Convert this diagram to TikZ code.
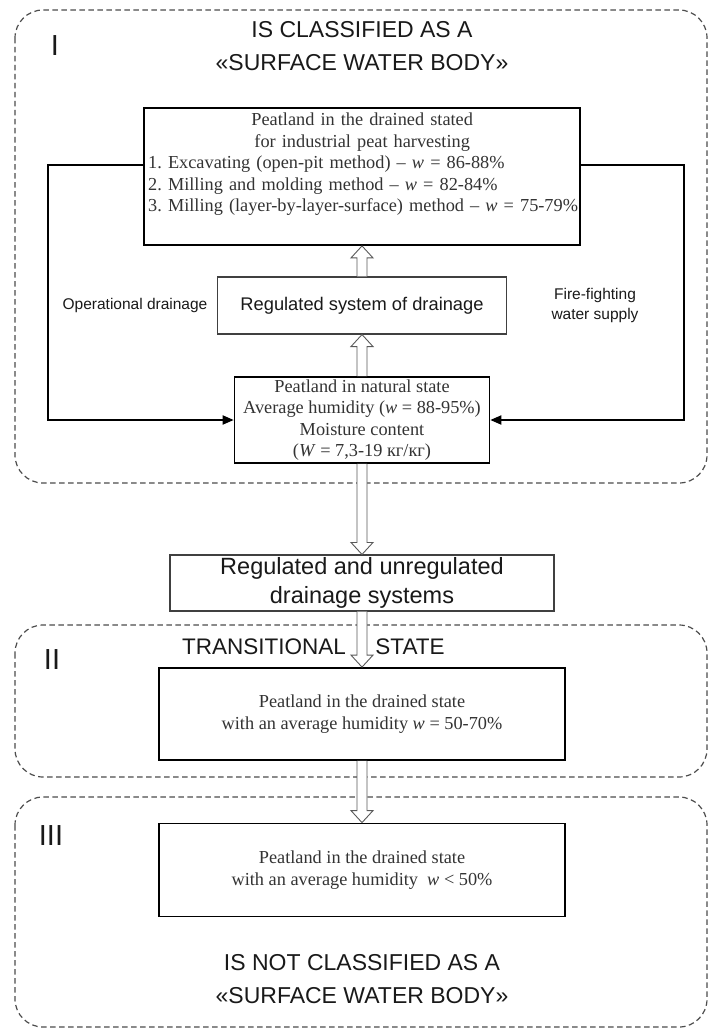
\documentclass[tikz,border=0pt]{standalone}
\usepackage{fontspec}
\setmainfont{Liberation Serif}
\setsansfont{Liberation Sans}
\usetikzlibrary{arrows.meta,calc}
\frenchspacing
\newcommand{\srf}{\fontsize{18.3}{21.5}\selectfont}
\newcommand{\hollowarrow}[2]{%
  \draw[hollow] let \p1=(#1), \p2=(#2), \n1={sign(\y2-\y1)} in
    ({\x1-5pt},{\y1}) -- ({\x1-5pt},{\y2-\n1*12pt}) -- ({\x1-11pt},{\y2-\n1*12pt})
    -- ({\x1},{\y2}) -- ({\x1+11pt},{\y2-\n1*12pt}) -- ({\x1+5pt},{\y2-\n1*12pt})
    -- ({\x1+5pt},{\y1});
}
\begin{document}
\begin{tikzpicture}[x=1pt,y=-1pt,
  region/.style={draw=black!70, line width=1.2pt, dash pattern=on 5.5pt off 3.5pt, rounded corners=28pt},
  thickbox/.style={draw=black, line width=1.8pt, fill=white, inner sep=0pt, align=center, text=black!80},
  thinbox/.style={draw=black!75, line width=1.1pt, fill=white, inner sep=0pt, align=center, text=black!90},
  seriftext/.style={font=\srf, text=black!80},
  titletext/.style={font=\sffamily\fontsize{23}{33}\selectfont, align=center, text=black!90},
  numeral/.style={font=\sffamily\fontsize{29}{30}\selectfont, text=black!90},
  sidetext/.style={font=\sffamily\fontsize{15.5}{20}\selectfont, align=center, text=black!90},
  hollow/.style={draw=black!65, line width=0.9pt, fill=white, line join=miter},
  side/.style={draw=black, line width=1.8pt, -{Triangle[length=11pt,width=9pt]}}
]
\useasboundingbox (0,0) rectangle (711,1030);

% regions
\draw[region] (15,10) rectangle (707,483);
\draw[region] (15,625) rectangle (707,777);
\draw[region] (15,797) rectangle (707,1027);

\node[titletext] (title1) at (362,46) {IS CLASSIFIED AS A\\«SURFACE WATER BODY»};
\node[numeral] (numI) at (55,46) {I};
\node[numeral] (numII) at (52,660) {II};
\node[numeral] (numIII) at (51,836) {III};

% top box
\node[thickbox, minimum width=436pt, minimum height=137pt] (harvest) at (362,176.5) {};
\node[seriftext, anchor=north west, align=left, inner sep=0pt, text width=440pt] (harvesttxt) at (148,113)
  {\makebox[428pt]{Peatland in the drained stated}\\
   \makebox[428pt]{for industrial peat harvesting}\\
   1. Excavating (open-pit method) -- \textit{w} = 86-88\%\\
   2. Milling and molding method -- \textit{w} = 82-84\%\\
   3. Milling (layer-by-layer-surface) method -- \textit{w} = 75-79\%};

\node[thinbox, minimum width=289pt, minimum height=57pt, font=\sffamily\fontsize{18.3}{22}\selectfont] (regbox) at (362,305.5) {Regulated system of drainage};
\node[sidetext] (opdrain) at (135,305) {Operational drainage};
\node[sidetext] (fire) at (595,305) {Fire-fighting\\water supply};

\node[thickbox, line width=1.6pt, minimum width=255pt, minimum height=86pt, font=\srf] (natbox) at (362,420)
  {Peatland in natural state\\Average humidity (\textit{w} = 88-95\%)\\Moisture content\\(\textit{W} = 7,3-19 кг/кг)};

\node[thinbox, minimum width=384pt, minimum height=56pt, font=\sffamily\fontsize{23.5}{29}\selectfont] (drainsys) at (362,583)
  {Regulated and unregulated\\drainage systems};

\node[titletext, font=\sffamily\fontsize{22.5}{29}\selectfont] (transA) at (264,647) {TRANSITIONAL};
\node[titletext, font=\sffamily\fontsize{22.5}{29}\selectfont] (transB) at (410,647) {STATE};

\node[thickbox, minimum width=406pt, minimum height=92pt, font=\srf] (trans) at (362,714)
  {Peatland in the drained state\\with an average humidity \textit{w} = 50-70\%};
\node[thickbox, minimum width=406pt, minimum height=93pt, font=\srf] (dry) at (362,870)
  {Peatland in the drained state\\with an average humidity~ \textit{w} < 50\%};

\node[titletext] (title2) at (362,979) {IS NOT CLASSIFIED AS A\\«SURFACE WATER BODY»};

% side connectors
\draw[side] ([yshift=11.5pt]harvest.west) -- ++(-95,0) |- (natbox.west);
\draw[side] ([yshift=11.5pt]harvest.east) -- ++(103,0) |- (natbox.east);

% hollow arrows
\hollowarrow{natbox.north}{regbox.south}
\hollowarrow{regbox.north}{harvest.south}
\hollowarrow{natbox.south}{drainsys.north}
\hollowarrow{drainsys.south}{trans.north}
\hollowarrow{trans.south}{dry.north}
\end{tikzpicture}
\end{document}
